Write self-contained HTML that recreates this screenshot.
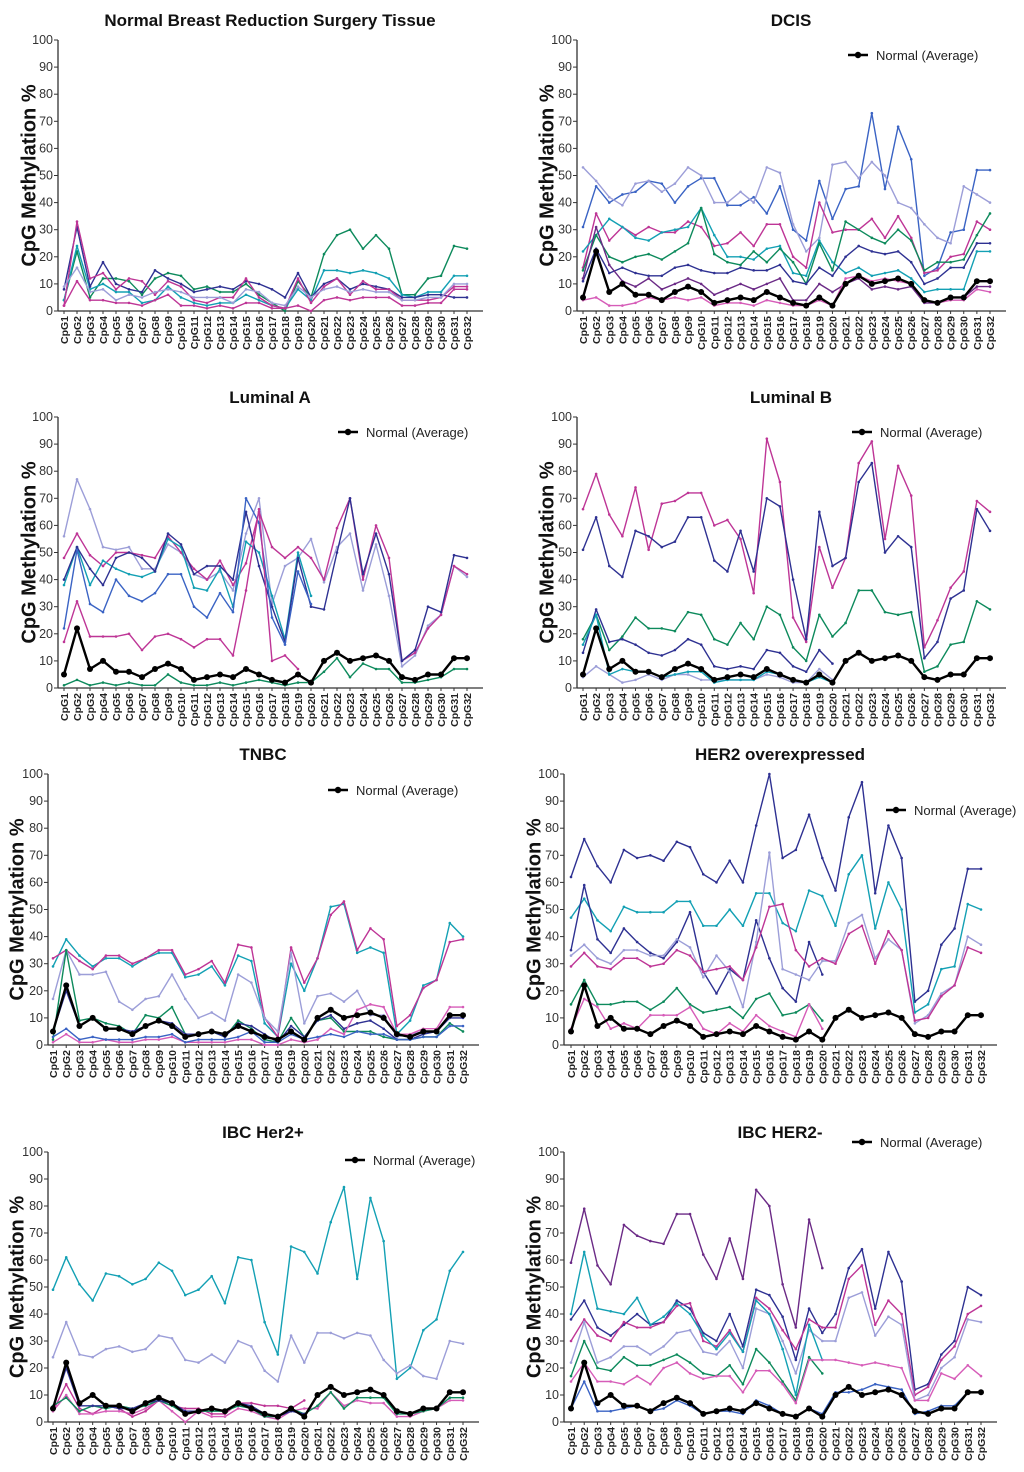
<!DOCTYPE html>
<html><head><meta charset="utf-8"><style>
html,body{margin:0;padding:0;background:#fff}
svg{display:block;font-family:"Liberation Sans",Arial,sans-serif}
</style></head><body>
<svg id="c" width="1024" height="1472" viewBox="0 0 1024 1472"></svg>
<script>
const categories=[];for(let i=1;i<=32;i++)categories.push('CpG'+i);
const yTicks=[0,10,20,30,40,50,60,70,80,90,100];
const normalAvg=[5,22,7,10,6,6,4,7,9,7,3,4,5,4,7,5,3,2,5,2,10,13,10,11,12,10,4,3,5,5,11,11];
const N=null;
const C={navy:'#2e3192',blue:'#3a63c4',teal:'#13a0b4',green:'#0d8a5c',mag:'#be3596',lav:'#9c9ed8',purp:'#6b2a86',pink:'#d65cb8'};
const p1Green=[4,22,5,12,12,11,6,12,14,13,8,9,7,7,10,6,3,0,11,5,21,28,30,23,28,23,6,6,12,13,24,23];
const p1Teal=[4,24,8,10,7,7,3,4,9,5,3,2,3,3,6,4,2,1,8,4,15,15,14,15,14,12,6,5,7,7,13,13];
const p1Navy=[8,31,9,18,10,8,7,15,12,10,7,8,9,8,11,10,8,5,14,5,10,12,8,10,9,8,5,5,6,6,5,5];
const p1Mag=[2,33,12,14,8,12,11,6,11,9,4,3,5,5,12,5,2,1,12,3,9,12,6,11,8,8,4,4,4,5,9,9];
const p1Pink=[2,11,4,4,3,3,2,4,6,2,2,1,2,1,3,3,1,1,2,0,4,5,4,5,5,5,2,2,3,3,8,8];
const p1Lav=[9,16,7,8,4,6,5,7,8,7,5,5,5,3,8,7,3,2,9,5,8,9,7,8,7,7,4,4,5,5,10,10];
const p2Blue=[31,46,40,43,44,48,47,40,46,49,49,39,39,42,36,46,30,26,48,34,45,46,73,45,68,56,13,16,29,30,52,52];
const p2Lav=[53,48,42,39,47,48,44,47,53,50,40,40,44,40,53,51,32,22,27,54,55,49,55,50,40,38,32,27,25,46,43,40];
const p2Mag=[16,36,26,31,28,31,29,29,33,31,24,25,29,24,32,32,20,16,40,29,30,30,34,27,35,27,14,15,20,21,33,30];
const p2Teal=[22,28,34,31,27,26,29,30,31,38,28,20,20,19,23,24,14,13,26,18,14,16,13,14,15,12,7,8,8,8,22,22];
const p2Green=[15,28,20,18,20,21,19,22,25,38,21,18,17,22,18,23,18,10,25,15,33,30,27,25,30,26,15,18,18,19,28,36];
const p2Navy=[11,23,14,16,14,13,13,16,17,15,14,14,16,15,15,17,11,10,16,13,20,24,22,21,22,18,10,12,16,16,25,25];
const p2Purp=[12,31,17,11,9,12,8,10,12,10,6,8,10,8,10,12,4,4,10,7,10,12,8,9,8,9,3,3,5,5,9,9];
const p2Pink=[4,5,2,2,3,5,4,5,4,5,2,3,3,2,4,3,2,2,4,2,12,13,11,12,11,10,4,3,4,4,8,7];
const p3Lav=[56,77,66,52,51,52,44,44,53,50,42,40,43,36,57,70,31,45,48,55,39,52,57,36,53,34,8,12,23,27,45,41];
const p3Mag=[48,57,49,45,50,50,49,48,56,50,44,40,47,38,46,65,52,48,52,48,40,59,70,40,60,48,10,13,22,27,45,42];
const p3Teal=[38,52,38,47,44,42,41,43,55,52,37,36,44,30,54,50,34,18,50,34,N,N,N,N,N,N,N,N,N,N,N,N];
const p3Navy=[40,52,44,38,48,50,48,43,57,53,42,45,45,40,65,45,30,17,48,30,29,50,70,42,57,42,10,14,30,28,49,48];
const p3Blue=[22,51,31,28,40,34,32,35,42,42,30,26,35,28,70,61,26,16,43,31,N,N,N,N,N,N,N,N,N,N,N,N];
const p3Pink=[17,32,19,19,19,20,14,19,20,18,15,18,18,12,36,66,10,12,7,N,N,N,N,N,N,N,N,N,N,N,N,N];
const p3Green=[1,3,1,2,1,2,1,1,5,2,1,1,2,1,2,3,2,1,2,2,6,11,4,9,7,7,2,2,3,4,7,7];
const p4Mag=[66,79,64,56,74,51,68,69,72,72,60,62,55,35,92,76,26,17,52,37,48,83,91,55,82,71,15,25,37,43,69,65];
const p4Navy=[51,63,45,41,58,56,52,54,63,63,47,43,58,43,70,67,40,18,65,45,48,76,83,50,56,52,11,17,33,36,66,58];
const p4Green=[18,27,14,19,26,22,22,21,28,27,18,16,24,18,30,27,15,10,27,19,24,36,36,28,27,28,6,8,16,17,32,29];
const p4Navy2=[13,29,17,18,16,13,12,14,18,16,8,7,8,7,14,13,8,6,14,9,N,N,N,N,N,N,N,N,N,N,N,N];
const p4Lav=[4,8,5,2,3,5,3,5,5,3,3,3,3,3,5,4,2,2,7,3,N,N,N,N,N,N,N,N,N,N,N,N];
const p4Teal=[16,27,5,7,6,6,4,5,6,6,2,3,3,3,6,5,3,2,4,2,N,N,N,N,N,N,N,N,N,N,N,N];
const p5Teal=[29,39,33,29,32,32,29,32,34,34,25,26,29,22,33,31,8,3,30,20,32,51,52,34,36,34,4,9,22,24,45,40];
const p5Mag=[32,35,31,28,33,33,30,32,35,35,26,28,31,23,37,36,10,3,36,23,32,48,53,35,43,39,7,11,21,24,38,39];
const p5Lav=[17,35,26,26,27,16,13,17,18,26,17,10,12,9,26,23,10,5,34,8,18,19,16,20,11,11,3,4,5,5,11,11];
const p5Green=[2,35,9,10,8,7,4,11,10,14,4,4,5,3,9,6,2,1,10,3,9,10,5,5,5,3,2,2,3,3,8,5];
const p5Navy=[5,20,7,10,6,6,5,7,9,8,4,4,5,3,8,7,4,1,7,3,9,11,6,8,9,6,2,2,4,5,10,10];
const p5Pink=[1,4,1,1,2,1,1,2,2,3,1,1,1,1,2,2,0,0,2,1,2,6,4,13,15,14,4,4,6,6,14,14];
const p5Blue=[3,6,2,3,2,2,2,3,3,4,1,2,2,2,3,5,1,1,4,2,3,4,3,5,4,4,2,2,3,3,7,7];
const p6Navy=[62,76,66,60,72,69,70,68,75,73,63,60,68,60,81,100,69,72,85,69,57,84,97,56,81,69,16,20,37,43,65,65];
const p6Teal=[47,54,46,42,51,49,49,49,53,53,44,44,50,44,56,56,45,42,57,55,44,63,70,43,60,50,12,15,28,29,52,50];
const p6Navy2=[35,59,39,34,43,38,34,32,38,49,27,19,28,24,46,32,21,16,38,26,N,N,N,N,N,N,N,N,N,N,N,N];
const p6Lav=[33,37,32,30,35,35,33,33,39,36,25,33,27,14,38,71,28,26,24,31,31,45,48,32,39,35,8,11,19,22,40,37];
const p6Mag=[29,34,29,28,32,32,29,30,35,33,27,28,29,24,36,51,52,35,29,32,30,41,44,30,42,35,9,10,18,22,36,34];
const p6Green=[15,24,15,15,16,16,13,16,21,15,12,13,14,10,17,19,11,12,15,9,N,N,N,N,N,N,N,N,N,N,N,N];
const p6Pink=[6,17,14,6,8,6,11,11,11,14,6,4,8,5,11,7,5,3,15,6,N,N,N,N,N,N,N,N,N,N,N,N];
const p7Teal=[49,61,51,45,55,54,51,53,59,56,47,49,54,44,61,60,37,25,65,63,55,74,87,53,83,67,16,20,34,38,56,63];
const p7Lav=[24,37,25,24,27,28,26,27,32,31,23,22,25,22,30,28,19,15,32,22,33,33,31,33,32,23,18,21,17,16,30,29];
const p7Mag=[4,14,5,3,6,5,2,4,8,6,5,5,3,3,7,7,6,6,5,8,N,N,N,N,N,N,N,N,N,N,N,N];
const p7Pink=[4,10,3,3,4,4,3,5,8,4,0,4,2,2,5,4,2,1,4,5,5,11,6,8,7,7,2,2,4,5,8,8];
const p7Green=[6,9,4,6,5,6,5,6,8,6,3,4,4,4,6,5,2,2,5,3,6,11,5,9,9,9,3,3,4,5,9,9];
const p7Navy=[5,20,6,6,6,5,5,7,8,7,4,4,5,4,7,6,3,2,4,3,N,N,N,N,N,N,N,N,N,N,N,N];
const p8Purp=[59,79,58,51,73,69,67,66,77,77,62,53,68,53,86,80,51,35,75,57,N,N,N,N,N,N,N,N,N,N,N,N];
const p8Navy=[38,45,35,32,36,40,36,37,45,42,33,30,40,28,49,47,39,23,42,33,40,57,64,42,63,52,12,14,25,30,50,47];
const p8Mag=[30,38,32,30,37,35,35,37,43,44,30,28,34,26,46,42,34,27,38,35,35,53,58,36,45,40,10,13,23,28,40,43];
const p8Lav=[22,37,22,24,28,28,25,28,33,34,26,25,30,20,42,40,30,18,34,30,30,46,48,32,39,36,8,10,20,24,38,37];
const p8Teal=[40,63,42,41,40,46,36,39,44,40,32,27,33,26,45,40,27,10,36,23,N,N,N,N,N,N,N,N,N,N,N,N];
const p8Green=[17,30,20,19,24,21,21,23,25,22,18,17,21,14,27,22,15,8,24,18,N,N,N,N,N,N,N,N,N,N,N,N];
const p8Pink=[15,22,15,15,14,17,14,20,22,18,16,17,17,11,19,19,14,7,23,23,23,22,21,22,21,20,8,8,18,16,21,17];
const p8Blue=[5,15,4,4,5,6,4,5,8,6,3,4,4,3,8,6,3,2,5,3,11,11,12,14,13,12,3,4,6,6,11,11];

const panels=[
 {name:'normal-tissue',title:'Normal Breast Reduction Surgery Tissue',ax:58,x1:64,x32:467,yt:40,yb:311,lab:30,leg:null,avg:false,
  s:[[p1Green,C.green],[p1Teal,C.teal],[p1Navy,C.navy],[p1Mag,C.mag],[p1Pink,C.mag],[p1Lav,C.lav]]},
 {name:'dcis',title:'DCIS',ax:577,x1:583,x32:990,yt:40,yb:311,lab:548,leg:[858,55],avg:true,
  s:[[p2Blue,C.blue],[p2Lav,C.lav],[p2Mag,C.mag],[p2Teal,C.teal],[p2Green,C.green],[p2Navy,C.navy],[p2Purp,C.purp],[p2Pink,C.pink]]},
 {name:'luminal-a',title:'Luminal A',ax:58,x1:64,x32:467,yt:417,yb:688,lab:30,leg:[348,432],avg:true,
  s:[[p3Lav,C.lav],[p3Mag,C.mag],[p3Teal,C.teal],[p3Navy,C.navy],[p3Blue,C.blue],[p3Pink,C.mag],[p3Green,C.green]]},
 {name:'luminal-b',title:'Luminal B',ax:577,x1:583,x32:990,yt:417,yb:688,lab:548,leg:[862,432],avg:true,
  s:[[p4Mag,C.mag],[p4Navy,C.navy],[p4Green,C.green],[p4Navy2,C.navy],[p4Lav,C.lav],[p4Teal,C.teal]]},
 {name:'tnbc',title:'TNBC',ax:48,x1:53,x32:463,yt:774,yb:1045,lab:18,leg:[338,790],avg:true,
  s:[[p5Teal,C.teal],[p5Mag,C.mag],[p5Lav,C.lav],[p5Green,C.green],[p5Navy,C.navy],[p5Pink,C.pink],[p5Blue,C.blue]]},
 {name:'her2-overexpressed',title:'HER2 overexpressed',ax:564,x1:571,x32:981,yt:774,yb:1045,lab:535,leg:[896,810],avg:true,
  s:[[p6Navy,C.navy],[p6Teal,C.teal],[p6Navy2,C.navy],[p6Lav,C.lav],[p6Mag,C.mag],[p6Green,C.green],[p6Pink,C.pink]]},
 {name:'ibc-her2-positive',title:'IBC Her2+',ax:48,x1:53,x32:463,yt:1152,yb:1422,lab:18,leg:[355,1160],avg:true,
  s:[[p7Teal,C.teal],[p7Lav,C.lav],[p7Mag,C.mag],[p7Pink,C.pink],[p7Green,C.green],[p7Navy,C.navy]]},
 {name:'ibc-her2-negative',title:'IBC HER2-',ax:564,x1:571,x32:981,yt:1152,yb:1422,lab:535,leg:[862,1142],avg:true,
  s:[[p8Purp,C.purp],[p8Navy,C.navy],[p8Mag,C.mag],[p8Lav,C.lav],[p8Teal,C.teal],[p8Green,C.green],[p8Pink,C.pink],[p8Blue,C.blue]]}
];
const svg=document.getElementById('c');
const NS='http://www.w3.org/2000/svg';
function mk(tag,attrs,parent){const e=document.createElementNS(NS,tag);for(const k in attrs)e.setAttribute(k,attrs[k]);(parent||svg).appendChild(e);return e;}
panels.forEach(p=>{
 const g=mk('g',{});
 
 
 const xS=i=>p.x1+(p.x32-p.x1)*i/31;
 const yS=v=>p.yb-(p.yb-p.yt)*v/100;
 const cx=(p.ax+p.x32+15)/2;
 const t=mk('text',{x:cx,y:p.yt-14,'text-anchor':'middle','font-size':17,'font-weight':'bold',fill:'#111'},g);
 t.textContent=p.title;
 
 
 const yl=mk('text',{x:p.lab,y:(p.yt+p.yb)/2,'text-anchor':'middle','font-size':20,'font-weight':'bold',fill:'#111',transform:`rotate(-90 ${p.lab} ${(p.yt+p.yb)/2})`,'dominant-baseline':'middle'},g);
 yl.textContent='CpG Methylation %';
 
 
 mk('line',{x1:p.ax,y1:p.yt,x2:p.ax,y2:p.yb,stroke:'#333','stroke-width':1.3},g);
 mk('line',{x1:p.ax,y1:p.yb,x2:p.x32+16,y2:p.yb,stroke:'#333','stroke-width':1.3},g);
 yTicks.forEach(v=>{
  mk('line',{x1:p.ax-4,y1:yS(v),x2:p.ax,y2:yS(v),stroke:'#333'},g);
  const tl=mk('text',{x:p.ax-5,y:yS(v)+4,'text-anchor':'end','font-size':12.5,fill:'#333'},g);
  tl.textContent=v;
  
  
 });
 categories.forEach((c,i)=>{
  mk('line',{x1:xS(i),y1:p.yb,x2:xS(i),y2:p.yb+3,stroke:'#333'},g);
  const xl=mk('text',{x:xS(i)+4,y:p.yb+5,'text-anchor':'end','font-size':10.5,'font-weight':'bold',fill:'#222',transform:`rotate(-90 ${xS(i)+4} ${p.yb+5})`},g);
  xl.textContent=c;
  
  
 });
 function draw(arr,col,w,r,nm){
  let d='';let pen=false;
  arr.forEach((v,i)=>{if(v===null){pen=false;return;}d+=(pen?'L':'M')+xS(i).toFixed(1)+' '+yS(v).toFixed(1);pen=true;});
  const pl=mk('path',{d:d,fill:'none',stroke:col,'stroke-width':w,'stroke-linejoin':'round'},g);
  
  
  arr.forEach((v,i)=>{if(v===null)return;mk('circle',{cx:xS(i),cy:yS(v),r:r,fill:col},g);});
 }
 p.s.forEach((s,k)=>draw(s[0],s[1],1.4,1.3,'series-line-'+(k+1)));
 if(p.avg)draw(normalAvg,'#000',2.4,3,'normal-average-line');
 if(p.leg){
  const lg=mk('g',{},g);
  
  
  mk('line',{x1:p.leg[0]-10,y1:p.leg[1],x2:p.leg[0]+10,y2:p.leg[1],stroke:'#000','stroke-width':2.4},lg);
  mk('circle',{cx:p.leg[0],cy:p.leg[1],r:3.2,fill:'#000'},lg);
  const lt=mk('text',{x:p.leg[0]+18,y:p.leg[1]+5,'font-size':13,fill:'#222'},lg);
  lt.textContent='Normal (Average)';
 }
});
</script>
</body></html>
